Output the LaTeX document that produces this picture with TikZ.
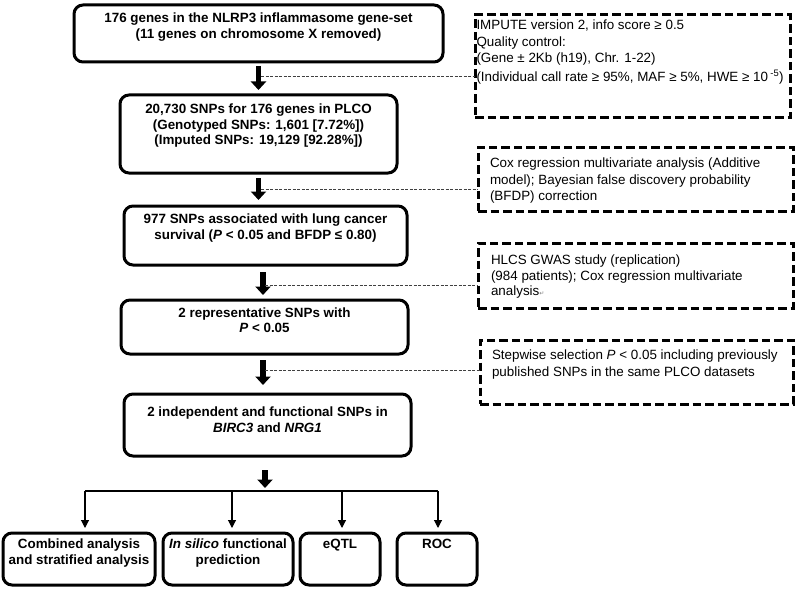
\documentclass[tikz,border=0pt]{standalone}
\usepackage{fontspec}
\setmainfont{Liberation Sans}
\newfontfamily\djv{DejaVu Sans}
\usetikzlibrary{arrows.meta}
% #1 width, #2 height, #3 top space, #4 baselineskip, #5 text
\newcommand\bxtext[5]{\parbox[c][#2][t]{#1}{\fontsize{13.4}{#4}\selectfont\vspace*{#3}\centering\bfseries #5\par}}
% #1 width, #2 height, #3 top space, #4 left skip, #5 text
\newcommand\dxtext[5]{\parbox[c][#2][t]{#1}{\fontsize{13.4}{16.3}\selectfont\vspace*{#3}\raggedright\leftskip=#4\relax #5\par}}
\tikzset{
  box/.style={draw, line width=3pt, rounded corners=9pt, inner sep=0pt, outer sep=0pt},
  dbox/.style={draw, line width=3pt, dash pattern=on 8.5pt off 4pt, inner sep=0pt, outer sep=0pt},
  bigarrow/.style={line width=5.5pt, -{Triangle[width=15pt,length=8.5pt]}},
  thinarrow/.style={line width=1.1pt, -{Triangle[width=8pt,length=8pt]}},
  conn/.style={line width=1pt, draw=black!75, dash pattern=on 3pt off 1.5pt},
}
\begin{document}
\begin{tikzpicture}[x=1pt,y=-1pt]
\useasboundingbox (0,0) rectangle (800,591);

% main boxes
\node[box] (b1) at (258.5,33.5) {\bxtext{369pt}{57pt}{8.1pt}{15.2pt}{176 genes in the NLRP3 inflammasome gene-set\\(11 genes on chromosome X removed)}};
\node[box] (b2) at (258.5,134) {\bxtext{277pt}{78pt}{9.1pt}{15.5pt}{20,730 SNPs for 176 genes in PLCO\\(Genotyped SNPs: 1,601 [7.72\%])\\(Imputed SNPs: 19,129 [92.28\%])}};
\node[box] (b3) at (265.5,235.5) {\bxtext{283pt}{59pt}{8.1pt}{16pt}{977 SNPs associated with lung cancer\\survival (\textit{P} < 0.05 and BFDP ≤ 0.80)}};
\node[box] (b4) at (264.5,327) {\bxtext{287pt}{54pt}{8.1pt}{15pt}{2 representative SNPs with\\\textit{P} < 0.05}};
\node[box] (b5) at (267.5,425) {\bxtext{287pt}{62pt}{13.1pt}{16pt}{2 independent and functional SNPs in\\\textit{BIRC3} and \textit{NRG1}}};

% bottom boxes
\node[box] (c1) at (79,559) {\bxtext{152pt}{52pt}{6.1pt}{16pt}{Combined analysis\\and stratified analysis}};
\node[box] (c2) at (228,559) {\bxtext{130pt}{52pt}{6.1pt}{16pt}{\textit{In silico} functional\\prediction}};
\node[box] (c3) at (340,559) {\bxtext{80pt}{52pt}{6.1pt}{16pt}{eQTL}};
\node[box] (c4) at (437,559) {\bxtext{80pt}{52pt}{6.1pt}{16pt}{ROC}};

% dashed side boxes
\node[dbox] (d1) at (632.5,66.5) {\dxtext{315pt}{103pt}{5.1pt}{1.5pt}{IMPUTE version 2, info score ≥ 0.5\\Quality control:\\(Gene ± 2Kb (h19), Chr. 1-22)\\[3pt](Individual call rate ≥ 95\%, MAF ≥ 5\%, HWE ≥ 10\,\textsuperscript{-5})}};
\node[dbox] (d2) at (635.5,179) {\dxtext{315pt}{64pt}{11.1pt}{12pt}{Cox regression multivariate analysis (Additive\\model); Bayesian false discovery probability\\(BFDP) correction}};
\node[dbox] (d3) at (635.5,275.5) {\dxtext{315pt}{65pt}{12.1pt}{13pt}{HLCS GWAS study (replication)\\[-1pt](984 patients); Cox regression multivariate\\[-1pt]analysis{\djv\fontsize{6}{6}\selectfont\color{black!50}↵}}};
\node[dbox] (d4) at (636.5,372) {\dxtext{313pt}{64pt}{10.1pt}{12pt}{Stepwise selection \textit{P} < 0.05 including previously\\published SNPs in the same PLCO datasets}};

% arrow axes
\coordinate (a1) at (258.5,0);
\coordinate (a3) at (263,0);
\coordinate (a5) at (265,0);

% thick arrows
\draw[bigarrow, shorten <=4pt, shorten >=5pt] (a1 |- b1.south) -- (a1 |- b2.north);
\draw[bigarrow, shorten <=5pt, shorten >=6pt] (a1 |- b2.south) -- (a1 |- b3.north);
\draw[bigarrow, shorten <=7pt, shorten >=5pt] (a3 |- b3.south) -- (a3 |- b4.north);
\draw[bigarrow, shorten <=6pt, shorten >=9pt] (a3 |- b4.south) -- (a3 |- b5.north);

% dashed connectors
\coordinate (k1) at (261,77);
\coordinate (k2) at (261,189);
\coordinate (k3) at (265,285);
\coordinate (k4) at (265,370);
\draw[conn] (k1) -- (k1 -| d1.west);
\draw[conn] (k2) -- (k2 -| d2.west);
\draw[conn] (k3) -- (k3 -| d3.west);
\draw[conn] (k4) -- (k4 -| d4.west);

% split
\coordinate (h1) at (85,491);
\coordinate (h2) at (232,491);
\coordinate (h3) at (342,491);
\coordinate (h4) at (438,491);
\draw[bigarrow, shorten <=14pt, shorten >=3pt] (a5 |- b5.south) -- (a5 |- h1);
\draw[line width=1.1pt] (h1) -- (h4);
\draw[thinarrow, shorten >=5pt] (h1) -- (h1 |- c1.north);
\draw[thinarrow, shorten >=5pt] (h2) -- (h2 |- c2.north);
\draw[thinarrow, shorten >=5pt] (h3) -- (h3 |- c3.north);
\draw[thinarrow, shorten >=5pt] (h4) -- (h4 |- c4.north);
\end{tikzpicture}
\end{document}
